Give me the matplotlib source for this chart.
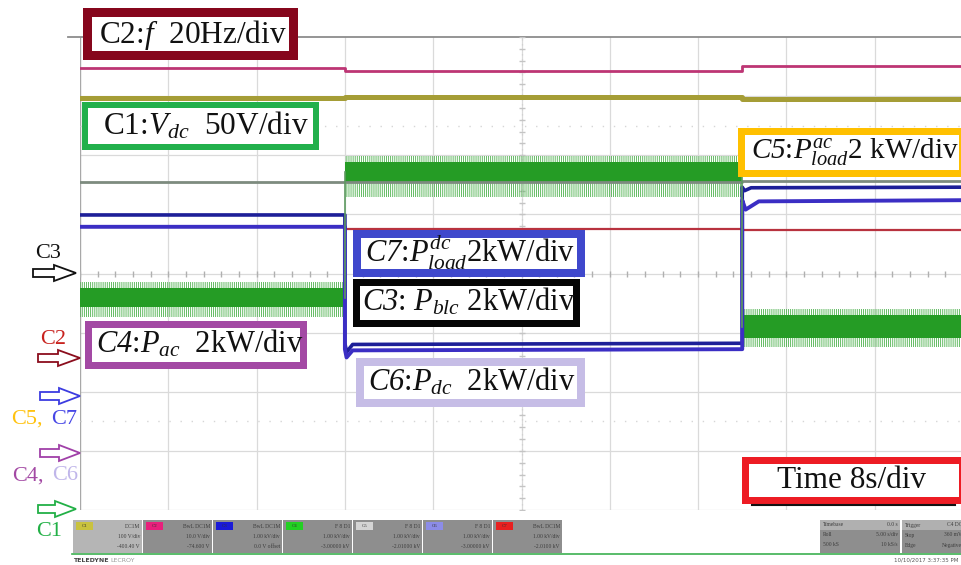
import numpy as np
import matplotlib.pyplot as plt
from matplotlib.patches import Rectangle, Polygon

plt.rcParams['font.family'] = ['Liberation Serif', 'DejaVu Serif']
plt.rcParams['mathtext.fontset'] = 'custom'
plt.rcParams['mathtext.rm'] = 'Liberation Serif'
plt.rcParams['mathtext.it'] = 'Liberation Serif:italic'
plt.rcParams['mathtext.bf'] = 'Liberation Serif:bold'
plt.rcParams['mathtext.sf'] = 'Liberation Serif:italic'   # italic digits for "C5" etc.
plt.rcParams['hatch.linewidth'] = 0.6

# scope: 8 s/div over 10 div, vertical in divisions (-4..4)
t_edges = [0, 24, 60, 80]          # load steps at 24 s and 60 s

# plateau levels (div) for the three intervals
c2_freq = [3.48, 3.43, 3.51]
c1_vdc = [2.97, 2.99, 2.95]
c5_gray = [1.55, 1.55, 1.57]
c7_red = [0.79, 0.75, 0.74]
c3_blue = [0.99, -1.18, 1.46]
c6_blue = [0.79, -1.28, 1.24]
# transients right after the steps (t, div)
c3_trans = [(24.15, -1.33), (24.7, -1.20), (60.2, 1.40), (60.8, 1.45)]
c6_trans = [(24.15, -1.42), (24.7, -1.30), (60.3, 1.08), (61.5, 1.22)]

# noisy green trace (C4): centre, dense core and outer envelope
c4_mid = [-0.41, 1.72, -0.90]
c4_core_top = [-0.25, 1.89, -0.71]
c4_core_bot = [-0.56, 1.53, -1.09]
c4_out_top = [-0.14, 1.98, -0.60]
c4_out_bot = [-0.74, 1.30, -1.25]


def step_trace(levels, trans=()):
    pts = []
    for i, lev in enumerate(levels):
        pts += [(t_edges[i], lev), (t_edges[i + 1], lev)]
    pts += list(trans)
    pts = sorted(pts, key=lambda p: p[0])
    return [p[0] for p in pts], [p[1] for p in pts]


fig = plt.figure(figsize=(9.62, 5.65), dpi=100)
fig.patch.set_facecolor('white')

ax = fig.add_axes([80 / 962, (565 - 510) / 565, 883 / 962, 473 / 565])
ax.set_xlim(0, 80)
ax.set_ylim(-4, 4)
ax.axis('off')

# graticule
for v in range(-4, 4):
    ax.axhline(v, color='#dadada', lw=0.9, zorder=0)
for t in range(8, 81, 8):
    ax.axvline(t, color='#dadada', lw=0.9, zorder=0)
ax.axvline(0, color='#a8a8a8', lw=1.0, zorder=0)
ax.axhline(4, xmin=-0.014, color='#8c8c8c', lw=1.3, clip_on=False, zorder=0)
ax.axvline(40, color='#cfcfcf', lw=0.9, ls=(0, (1, 3)), zorder=0)
for v in (2.5, -2.5):
    ax.axhline(v, color='#d6d6d6', lw=1.0, ls=(0, (1, 7)), zorder=0)
ax.plot(np.arange(0, 80.1, 1.6), np.zeros(51), '|', ms=4, color='#b0b0b0', zorder=0)
ax.plot(np.full(41, 40), np.arange(-4, 4.01, 0.2), '_', ms=4, color='#c4c4c4', zorder=0)

# traces
ax.plot(*step_trace(c2_freq), color='#bd3574', lw=2.0)
ax.plot(*step_trace(c1_vdc), color='#a59d36', lw=3.6)
ax.plot(*step_trace(c5_gray), color='#7d8b7f', lw=2.0)
ax.plot(*step_trace(c7_red), color='#b8323f', lw=1.6)
ax.plot(*step_trace(c3_blue, c3_trans), color='#1d1f98', lw=2.6)
ax.plot(*step_trace(c6_blue, c6_trans), color='#3b2ec4', lw=2.8)

for i in range(3):
    seg = [t_edges[i], t_edges[i + 1]]
    ax.fill_between(seg, c4_out_bot[i], c4_out_top[i], facecolor='none',
                    edgecolor='#4cb04c', hatch='||||||||', lw=0)
    ax.fill_between(seg, c4_core_bot[i], c4_core_top[i], color='#259c25', lw=0)
ax.plot([24, 24], [c4_mid[0], c4_mid[1]], color='#5d9a60', lw=1.2)
ax.plot([60, 60], [c4_mid[1], c4_mid[2]], color='#5d9a60', lw=1.2)

# overlay in pixel coordinates for annotations and the scope status bar
ov = fig.add_axes([0, 0, 1, 1])
ov.set_xlim(0, 962)
ov.set_ylim(565, 0)
ov.axis('off')
ov.patch.set_alpha(0)
ov.set_zorder(5)


def label_box(x0, y0, x1, y1, color, bw, text, tx, ty, ha='left', size=21):
    ov.add_patch(Rectangle((x0, y0), x1 - x0, y1 - y0, fc=color, ec='none'))
    ov.add_patch(Rectangle((x0 + bw, y0 + bw), x1 - x0 - 2 * bw, y1 - y0 - 2 * bw,
                           fc='white', ec='none'))
    ov.text(tx, ty, text, ha=ha, va='center', fontsize=size, color='#111111')


label_box(83, 8, 298, 60, '#86061c', 9, 'C2:$f$  20Hz/div', 99, 35, size=22.5)
label_box(82, 102, 319, 150, '#22b04c', 6, 'C1:$V_{dc}$  50V/div', 103, 126, size=22.5)
label_box(738, 128, 966, 177, '#ffc000', 7, r'$\mathsf{C5}$:$P^{ac}_{load}$2 kW/div', 751, 152)
label_box(353, 230, 585, 277, '#3f48cc', 8, r'$\mathsf{C7}$:$P^{dc}_{load}$2kW/div', 365, 252,
          size=22)
label_box(353, 279, 580, 327, '#050505', 7, r'$\mathsf{C3}$: $P_{blc}$ 2kW/div', 362, 302,
          size=22)
label_box(85, 321, 307, 369, '#a349a4', 7, r'$\mathsf{C4}$:$P_{ac}$  2kW/div', 96, 344, size=22)
label_box(356, 358, 585, 407, '#c6bde6', 8, r'$\mathsf{C6}$:$P_{dc}$  2kW/div', 368, 382,
          size=22)
label_box(742, 457, 966, 504, '#ed1c24', 7, 'Time 8s/div', 852, 481, ha='center', size=22.5)
ov.plot([752, 955], [505, 505], color='#111111', lw=1.5)


def arrow(xs, xh, xe, y, color):
    pts = [(xs, y - 4), (xh, y - 4), (xh, y - 8), (xe, y), (xh, y + 8), (xh, y + 4), (xs, y + 4)]
    ov.add_patch(Polygon(pts, closed=True, fill=False, ec=color, lw=1.3))


arrow(33, 54, 76, 273, '#111111')
arrow(38, 58, 80, 358, '#8b0d1d')
arrow(40, 59, 80, 396, '#3c3ce0')
arrow(40, 59, 80, 453, '#a040a8')
arrow(38, 55, 76, 509, '#22b046')

ov.text(48, 253, 'C3', ha='center', va='center', fontsize=16, color='#111111')
ov.text(53, 339, 'C2', ha='center', va='center', fontsize=16, color='#c8221e')
ov.text(11, 419, 'C5,', ha='left', va='center', fontsize=16, color='#ffc20e')
ov.text(77, 419, 'C7', ha='right', va='center', fontsize=16, color='#4646e6')
ov.text(12, 476, 'C4,', ha='left', va='center', fontsize=16, color='#a349a4')
ov.text(78, 476, 'C6', ha='right', va='center', fontsize=16, color='#c0b6ea')
ov.text(49, 532, 'C1', ha='center', va='center', fontsize=16, color='#22b046')

# status bar of the scope
panel = [('C1', '#c9c23e', 'DC1M', '100 V/div', '-400.40 V'),
         ('C2', '#e8207c', 'BwL DC1M', '10.0 V/div', '-74.600 V'),
         ('C3', '#1a1ad8', 'BwL DC1M', '1.00 kV/div', '0.0 V offset'),
         ('C4', '#22d022', 'F 8 D1', '1.00 kV/div', '-3.00000 kV'),
         ('C5', '#d4d4d4', 'F 8 D1', '1.00 kV/div', '-2.01000 kV'),
         ('C6', '#8c8ce8', 'F 8 D1', '1.00 kV/div', '-3.00000 kV'),
         ('C7', '#e82020', 'BwL DC1M', '1.00 kV/div', '-2.0100 kV')]
for i, (name, col, l1, l2, l3) in enumerate(panel):
    x0 = 73 + i * 70
    ov.add_patch(Rectangle((x0, 520), 69, 33, fc='#b5b5b5' if i == 0 else '#8e8e8e', ec='none'))
    ov.add_patch(Rectangle((x0 + 3, 522), 17, 8, fc=col, ec='none'))
    ov.text(x0 + 11.5, 526, name, ha='center', va='center', fontsize=3.5, color='#333333')
    for k, s in enumerate((l1, l2, l3)):
        ov.text(x0 + 67, 526 + k * 10, s, ha='right', va='center', fontsize=4, color='#3c3c3c')

ov.add_patch(Rectangle((820, 520), 80, 33, fc='#8e8e8e', ec='none'))
ov.add_patch(Rectangle((820, 520), 80, 10, fc='#b0b0b0', ec='none'))
ov.add_patch(Rectangle((902, 520), 62, 33, fc='#8e8e8e', ec='none'))
ov.add_patch(Rectangle((902, 520), 62, 10, fc='#b0b0b0', ec='none'))
for k, (a, b) in enumerate([('Timebase', '0.0 s'), ('Roll', '5.00 s/div'), ('500 kS', '10 kS/s')]):
    ov.text(823, 525 + k * 10, a, ha='left', va='center', fontsize=4, color='#3c3c3c')
    ov.text(898, 525 + k * 10, b, ha='right', va='center', fontsize=4, color='#3c3c3c')
for k, (a, b) in enumerate([('Trigger', 'C4 DC'), ('Stop', '360 mV'), ('Edge', 'Negative')]):
    ov.text(905, 525 + k * 10, a, ha='left', va='center', fontsize=4, color='#3c3c3c')
    ov.text(962, 525 + k * 10, b, ha='right', va='center', fontsize=4, color='#3c3c3c')

ov.plot([72, 962], [554, 554], color='#3cb050', lw=1.2)
ov.text(73, 560, 'TELEDYNE', ha='left', va='center', fontsize=4.5, color='#444444',
        fontweight='bold', family='DejaVu Sans')
ov.text(110, 560, 'LECROY', ha='left', va='center', fontsize=4.5, color='#999999',
        family='DejaVu Sans')
ov.text(958, 560, '10/10/2017 3:37:35 PM', ha='right', va='center', fontsize=4,
        color='#555555', family='DejaVu Sans')

fig.savefig('out.png', dpi=100)
